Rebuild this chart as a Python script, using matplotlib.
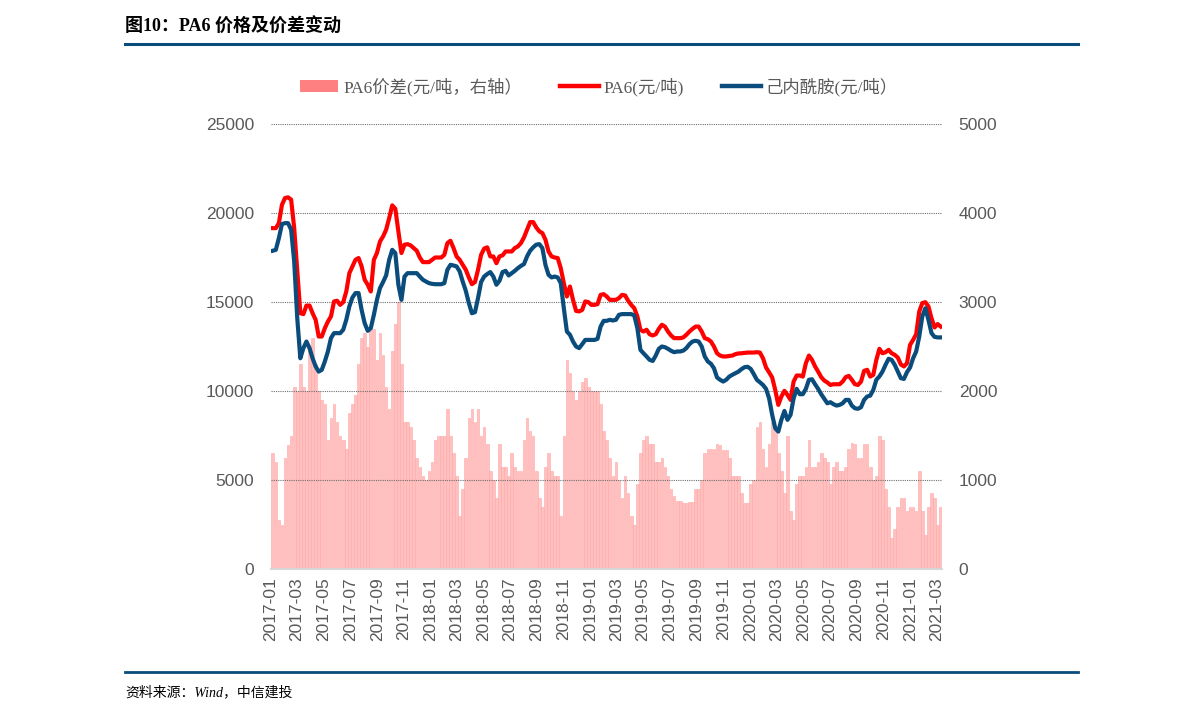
import matplotlib
matplotlib.use('Agg')
import matplotlib.pyplot as plt
import pandas as pd
from matplotlib.patches import Patch
from matplotlib.lines import Line2D

plt.rcParams['font.family'] = ['Liberation Sans', 'Noto Sans CJK SC', 'DejaVu Sans']

# weekly points, 2017-01-05 .. 2021-03-11
weeks = pd.date_range('2017-01-05', periods=219, freq='7D')

# PA6 price (yuan/ton, left axis)
pa6 = [19150, 19150, 19430, 20460, 20840, 20880, 20750, 19150, 16720, 14370,
       14320, 14800, 14800, 14370, 14000, 13060, 13060, 13530, 13900, 14190,
       15030, 15070, 14840, 14990, 15590, 16620, 17000, 17370, 17470, 17000,
       16250, 15970, 15590, 17370, 17750,
       18400, 18680, 19060, 19710, 20430, 20240, 18970, 17750, 18220, 18250,
       18180, 18030, 17880, 17500, 17240, 17240, 17240, 17370, 17500, 17500,
       17500, 17650, 18310, 18440, 18030, 17560, 17370, 17090, 16810, 16380,
       16000, 16120, 16810, 17650, 18000, 18070, 17560,
       17560, 17180, 17560, 17620, 17840, 17840, 17840, 18030, 18120, 18310,
       18630, 19060, 19490, 19490, 19190, 18970, 18870, 18500, 17840, 17560,
       17500, 17470, 16900, 16060, 15310, 15870, 15120, 14500, 14470, 14560,
       15030, 14990, 14840, 14840, 14880, 15400, 15440,
       15310, 15120, 15120, 15120, 15220, 15400, 15370, 15070, 14840, 14650,
       14190, 13440, 13340, 13440, 13190, 13120, 13190, 13490, 13720, 13620,
       13340, 13120, 12970, 12970, 12970, 13010, 13160, 13340, 13490, 13620,
       13620, 13340, 12970, 12910, 12780, 12500, 12120,
       11990, 11940, 11940, 11970, 11990, 12070, 12110, 12120, 12140, 12160,
       12160, 12160, 12180, 12160, 11840, 11320, 11050, 10760, 10060, 9220,
       9690, 10010, 9780, 9500, 10530, 10870, 10870, 10810, 11560, 11990,
       11750, 11380, 11090, 10780, 10590, 10480, 10340,
       10380, 10380, 10380, 10530, 10780, 10850, 10630, 10380, 10340, 10530,
       11130, 11190, 10810, 10910, 11750, 12370, 12120, 12180, 12310, 12120,
       12030, 11880, 11490, 11380, 11560, 12590, 12870, 13190, 14470, 14940,
       14990, 14750, 14090, 13570, 13760, 13620]

# caprolactam price (yuan/ton, left axis)
cpl = [17880, 17930, 18590, 19380, 19430, 19430, 19060, 17280, 14090, 11840,
       12410, 12780, 12410, 11840, 11380, 11090, 11190, 11660, 12220, 12970,
       13250, 13250, 13250, 13440, 14000, 14750, 15250, 15500, 15500, 14560,
       13810, 13380, 13530, 14280, 15120,
       15780, 16120, 16490, 17370, 17930, 17750, 15970, 15120, 16430, 16620,
       16620, 16620, 16620, 16430, 16250, 16150, 16060, 16020, 16000, 16000,
       16000, 16060, 16810, 17090, 17050, 17000, 16720, 16150, 15630, 14940,
       14370, 14430, 15220, 16120, 16430, 16570, 16680,
       16430, 15970, 16190, 16680, 16750, 16490, 16620, 16750, 16900, 17030,
       17130, 17560, 17880, 18070, 18220, 18250, 18030, 17090, 16530, 16380,
       16430, 16380, 16060, 14650, 13340, 13160, 12780, 12500, 12410, 12630,
       12870, 12870, 12870, 12870, 12930, 13620, 13940,
       13940, 14000, 13960, 14000, 14280, 14320, 14320, 14320, 14320, 14240,
       13530, 12310, 12120, 11940, 11750, 11690, 11990, 12370, 12500, 12460,
       12370, 12260, 12180, 12220, 12220, 12270, 12410, 12630, 12780, 12820,
       12780, 12500, 11940, 11660, 11530, 11280, 10760,
       10630, 10530, 10630, 10810, 10910, 11000, 11090, 11230, 11340, 11360,
       11240, 10950, 10630, 10490, 10340, 10120, 9590, 8660, 7910, 7720,
       8380, 8880, 8380, 8660, 9590, 10120, 9820, 9820, 10120, 10630,
       10660, 10380, 10120, 9820, 9560, 9310, 9370,
       9260, 9180, 9220, 9310, 9500, 9500, 9180, 9030, 9000, 9090,
       9500, 9690, 9740, 10060, 10630, 10820, 11090, 11470, 11810, 11750,
       11470, 11090, 10720, 10680, 11060, 11320, 11840, 12220, 13060, 14190,
       14650, 14000, 13250, 13040, 13010, 13010]

# PA6 spread (yuan/ton, right axis)
spread = [1300, 1200, 550, 500, 1250, 1390, 1500, 2050, 2000, 2300,
          2050, 2000, 2450, 2600, 2300, 2000, 1900, 1850, 1450, 1700,
          1850, 1650, 1500, 1450, 1350, 1750, 1850, 1950, 2300, 2600,
          2650, 2500, 2700, 2700, 2350,
          2650, 2400, 2050, 1800, 2450, 2750, 3000, 2300, 1650, 1650,
          1600, 1450, 1250, 1150, 1050, 1000, 1100, 1200, 1450, 1500,
          1500, 1500, 1800, 1500, 1300, 1050, 600, 900, 1250, 1700,
          1800, 1650, 1800, 1500, 1600, 1400, 1100,
          1000, 800, 1400, 1150, 1150, 1050, 1300, 1150, 1100, 1100,
          1450, 1700, 1550, 1500, 1100, 800, 700, 1150, 1300, 1100,
          1050, 1050, 600, 1500, 2350, 2200, 2000, 1900, 2000, 2100,
          2150, 2050, 2000, 2000, 2000, 1850, 1550,
          1450, 1250, 1050, 1200, 1000, 800, 1050, 850, 600, 500,
          950, 1300, 1450, 1500, 1400, 1400, 1200, 1200, 1250, 1150,
          1050, 900, 820, 760, 760, 740, 740, 750, 750, 900,
          900, 1000, 1300, 1350, 1350, 1350, 1400,
          1390, 1340, 1340, 1250, 1050, 1040, 1040, 850, 740, 740,
          950, 1000, 1600, 1650, 1350, 1150, 1400, 1650, 1600, 1300,
          1100, 850, 1500, 650, 550, 950, 1050, 1050, 1150, 1450,
          1150, 1150, 1200, 1300, 1250, 1200, 950,
          1150, 1200, 1100, 1100, 1150, 1350, 1420, 1400, 1250, 1250,
          1400, 1400, 1150, 1000, 1050, 1500, 1450, 900, 700, 350,
          450, 700, 800, 800, 650, 700, 700, 650, 1100, 650,
          380, 700, 850, 800, 500, 700]

tick_dates = pd.date_range('2017-01-01', '2021-03-01', freq='2MS')
tick_labels = [d.strftime('%Y-%m') for d in tick_dates]
left_ticks = [0, 5000, 10000, 15000, 20000, 25000]
right_ticks = [0, 1000, 2000, 3000, 4000, 5000]

gray = '#595959'
red = '#ff0000'
navy = '#0a4c7c'
pink = '#ff8080'

W, H = 1191, 720
fig = plt.figure(figsize=(W / 100, H / 100), dpi=100)

# bars live on the right-hand scale, lines on the left one
axb = fig.add_axes([271 / W, 1 - 569 / H, (942 - 271) / W, 445 / H])
axl = axb.twinx()
axb.yaxis.tick_right()
axl.yaxis.tick_left()

axb.bar(weeks, spread, width=6, color='#ffc0c0', edgecolor='#ffa6a6', linewidth=0.4)
axb.set_ylim(0, 5000)
axb.set_yticks(right_ticks)
axb.set_xlim(pd.Timestamp('2017-01-01'), pd.Timestamp('2021-03-14'))
axb.set_xticks(tick_dates)
axb.set_xticklabels(tick_labels, rotation=90)

axl.plot(weeks, pa6, color=red, lw=3.0, solid_joinstyle='round')
axl.plot(weeks, cpl, color=navy, lw=3.0, solid_joinstyle='round')
axl.set_ylim(0, 25000)
axl.set_yticks(left_ticks)
axl.grid(axis='y', linestyle=(0, (1, 1)), color='#6f6f6f', lw=0.8)

for a in (axb, axl):
    for s in a.spines.values():
        s.set_visible(False)
axb.spines['bottom'].set_visible(True)
axb.spines['bottom'].set_color('#d9d9d9')
axb.spines['bottom'].set_linewidth(1.5)

axb.tick_params(axis='y', length=0, pad=12, labelsize=12.5, labelcolor=gray)
axb.tick_params(axis='x', length=0, pad=6, labelsize=12.5, labelcolor=gray)
axl.tick_params(axis='y', length=0, pad=12, labelsize=12.5, labelcolor=gray)

handles = [Patch(facecolor=pink, edgecolor='none'),
           Line2D([], [], color=red, lw=3.2),
           Line2D([], [], color=navy, lw=3.2)]
labels = ['PA6价差(元/吨，右轴）', 'PA6(元/吨)', '己内酰胺(元/吨）']
leg = fig.legend(handles, labels, loc='center', bbox_to_anchor=(0.503, 1 - 87 / H),
                 ncol=3, frameon=False, handlelength=2.2, handletextpad=0.3,
                 columnspacing=2.2,
                 prop={'family': ['Liberation Serif', 'Noto Sans CJK SC'], 'size': 12.5})
for t in leg.get_texts():
    t.set_color(gray)

fig.text(125 / W, 1 - 27 / H, '图10：PA6 价格及价差变动', fontsize=13, fontweight='bold',
         family=['Liberation Serif', 'Noto Sans CJK SC'], va='center', ha='left')
fig.add_artist(Line2D([125 / W, 1078 / W], [1 - 44 / H] * 2, color=navy, lw=2.2))
fig.add_artist(Line2D([125 / W, 1078 / W], [1 - 672 / H] * 2, color=navy, lw=2.0))
fig.text(125 / W, 1 - 692 / H, '资料来源：Wind，中信建投', fontsize=10, style='italic',
         family=['Liberation Serif', 'Noto Sans CJK SC'], va='center', ha='left')

fig.savefig('out.png', dpi=100)
